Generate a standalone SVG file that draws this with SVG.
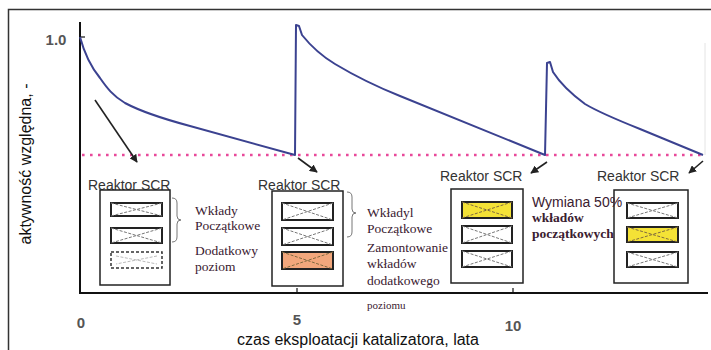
<svg xmlns="http://www.w3.org/2000/svg" width="711" height="350" viewBox="0 0 711 350">
  <defs>
    <marker id="ah" viewBox="0 0 10 10" refX="9" refY="5" markerWidth="5" markerHeight="5" orient="auto" markerUnits="strokeWidth">
      <path d="M0,0 L10,5 L0,10 Z" fill="#222"/>
    </marker>
  </defs>
  <style>
    .sans { font-family: "Liberation Sans", Arial, sans-serif; }
    .serif { font-family: "Liberation Serif", "Times New Roman", serif; font-size: 13.5px; fill: #3a2030; }
    .tick { font-family: "Liberation Sans", Arial, sans-serif; font-size: 15px; font-weight: bold; fill: #555; }
    .rlabel { font-family: "Liberation Sans", Arial, sans-serif; font-size: 14px; fill: #333; }
    .reactor { fill: #fff; stroke: #222; stroke-width: 1.5; }
    .cell { stroke: #222; stroke-width: 2; fill: #fff; }
    .cell.orange { fill: #f2a77c; }
    .cell.yellow { fill: #f4e236; }
    .cross { stroke: #777; stroke-width: 1; stroke-dasharray: 3 1.5; fill: none; }
    .cross.dark { stroke: #806a40; }
    .brace { fill: none; stroke: #777; stroke-width: 1; }
    .arrow { stroke: #222; stroke-width: 1.6; fill: none; marker-end: url(#ah); }
  </style>

  <rect width="711" height="350" fill="#fff"/>
  <!-- outer frame -->
  <rect x="8.5" y="9.5" width="720" height="360" fill="none" stroke="#333" stroke-width="1.5"/>

  <!-- axes -->
  <g id="axes">
    <line x1="80" y1="22" x2="80" y2="294" stroke="#111" stroke-width="2"/>
    <line x1="79" y1="293" x2="708" y2="293" stroke="#111" stroke-width="2"/>
    <line x1="80" y1="37" x2="85" y2="37" stroke="#111" stroke-width="1.2"/>
    <line x1="297" y1="288" x2="297" y2="293" stroke="#111" stroke-width="1.2"/>
    <line x1="513" y1="288" x2="513" y2="293" stroke="#111" stroke-width="1.2"/>
    <line x1="705" y1="43" x2="705" y2="155" stroke="#e4e4e4" stroke-width="1"/>
    <text class="tick" x="56" y="45" text-anchor="middle">1.0</text>
    <text class="tick" x="81" y="328" text-anchor="middle">0</text>
    <text class="tick" x="297" y="325" text-anchor="middle">5</text>
    <text class="tick" x="513" y="331" text-anchor="middle">10</text>
    <text class="sans" x="358" y="345" font-size="16" text-anchor="middle" fill="#111">czas eksploatacji katalizatora, lata</text>
    <text class="sans" transform="translate(31,164) rotate(-90)" font-size="16" text-anchor="middle" fill="#111">aktywność względna, -</text>
  </g>

  <!-- threshold line -->
  <line x1="82" y1="155" x2="706" y2="155" stroke="#e8499a" stroke-width="2.6" stroke-dasharray="2.6 5.4"/>

  <!-- activity curve -->
  <path d="M80,37 C84,52 91,67 100,78 C107,88 113,96 125,103 C140,111 160,118 190,126 L295,155 L296,25 L299,26 L302,35 C310,45 320,55 335,64 C350,73 370,84 400,96 L545,155 L547,63 L550,62 L553,72 C560,83 570,93 585,104 C600,113 620,121 640,129 L703,155" fill="none" stroke="#3b4290" stroke-width="2" stroke-linejoin="round"/>

  <!-- connectors -->
  <g id="connectors">
    <line class="arrow" x1="95" y1="100" x2="137" y2="162"/>
    <line class="arrow" x1="298" y1="158" x2="317" y2="172"/>
    <line class="arrow" x1="547" y1="162" x2="531" y2="173"/>
    <line class="arrow" x1="703" y1="161" x2="689" y2="173"/>
  </g>

  <!-- reactor 1 -->
  <g id="reactor1">
    <text class="rlabel" x="88" y="190">Reaktor SCR</text>
    <rect class="reactor" x="100" y="190" width="70" height="95"/>
    <rect class="cell" x="111" y="203" width="51" height="13"/>
    <path class="cross" d="M111,203 L162,216 M162,203 L111,216"/>
    <rect class="cell" x="111" y="228" width="51" height="15"/>
    <path class="cross" d="M111,228 L162,243 M162,228 L111,243"/>
    <rect x="111" y="252" width="51" height="16" fill="#fff" stroke="#333" stroke-width="1.5" stroke-dasharray="3 2"/>
    <path class="cross" d="M116,256 L157,264 M157,256 L116,264" style="stroke:#bbb"/>
    <path class="brace" d="M172,198 Q177,198 177,203 L177,216 Q177,220 181,220 Q177,220 177,224 L177,237 Q177,242 172,242"/>
    <text class="serif" x="195" y="215">Wkłady</text>
    <text class="serif" x="195" y="230">Początkowe</text>
    <text class="serif" x="195" y="255">Dodatkowy</text>
    <text class="serif" x="195" y="271">poziom</text>
  </g>

  <!-- reactor 2 -->
  <g id="reactor2">
    <text class="rlabel" x="258" y="190">Reaktor SCR</text>
    <rect class="reactor" x="272" y="191" width="71" height="95"/>
    <rect class="cell" x="282" y="203" width="51" height="17"/>
    <path class="cross" d="M282,203 L333,220 M333,203 L282,220"/>
    <rect class="cell" x="282" y="228" width="51" height="17"/>
    <path class="cross" d="M282,228 L333,245 M333,228 L282,245"/>
    <rect class="cell orange" x="282" y="252" width="51" height="17"/>
    <path class="cross dark" d="M282,252 L333,269 M333,252 L282,269"/>
    <path class="brace" d="M347,192 Q352,192 352,197 L352,209 Q352,213 356,213 Q352,213 352,217 L352,232 Q352,237 347,237"/>
    <text class="serif" x="367" y="217">Wkładyl</text>
    <text class="serif" x="367" y="233">Początkowe</text>
    <text class="serif" x="367" y="252">Zamontowanie</text>
    <text class="serif" x="367" y="268">wkładów</text>
    <text class="serif" x="367" y="285">dodatkowego</text>
    <text class="serif" x="367" y="309" style="font-size:11px">poziomu</text>
  </g>

  <!-- reactor 4 (drawn first so the neighbouring caption overlaps its frame) -->
  <g id="reactor4">
    <text class="rlabel" x="597" y="181">Reaktor SCR</text>
    <rect class="reactor" x="614" y="190" width="74" height="93"/>
    <rect class="cell" x="627" y="203" width="51" height="15"/>
    <path class="cross" d="M627,203 L678,218 M678,203 L627,218"/>
    <rect class="cell yellow" x="627" y="227" width="51" height="15"/>
    <path class="cross dark" d="M627,227 L678,242 M678,227 L627,242"/>
    <rect class="cell" x="627" y="252" width="51" height="15"/>
    <path class="cross" d="M627,252 L678,267 M678,252 L627,267"/>
  </g>

  <!-- reactor 3 -->
  <g id="reactor3">
    <text class="rlabel" x="440" y="181">Reaktor SCR</text>
    <rect class="reactor" x="451" y="189" width="72" height="94"/>
    <rect class="cell yellow" x="462" y="202" width="50" height="16"/>
    <path class="cross dark" d="M462,202 L512,218 M512,202 L462,218"/>
    <rect class="cell" x="462" y="226" width="50" height="17"/>
    <path class="cross" d="M462,226 L512,243 M512,226 L462,243"/>
    <rect class="cell" x="462" y="251" width="50" height="16"/>
    <path class="cross" d="M462,251 L512,267 M512,251 L462,267"/>
    <text class="sans" x="532" y="207" font-size="14" fill="#3a2030">Wymiana 50%</text>
    <text class="serif" x="532" y="222" font-weight="bold">wkładów</text>
    <text class="serif" x="532" y="238" font-weight="bold">początkowych</text>
  </g>
</svg>
